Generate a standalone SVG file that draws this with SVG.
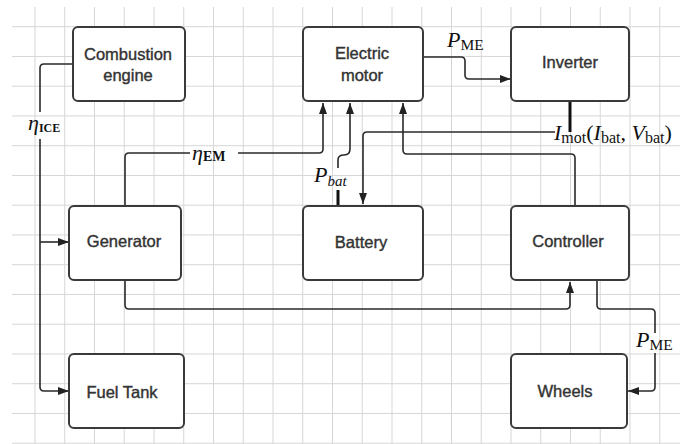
<svg xmlns="http://www.w3.org/2000/svg" width="680" height="444" viewBox="0 0 680 444">
<defs>
<pattern id="grid" x="34.5" y="26.2" width="29.75" height="29.75" patternUnits="userSpaceOnUse">
<path d="M0.5,0 V29.75 M0,0.5 H29.75" stroke="#d6d6d6" stroke-width="1" fill="none"/>
</pattern>
<marker id="ah" viewBox="0 0 11 8" refX="11" refY="4" markerWidth="11" markerHeight="8" markerUnits="userSpaceOnUse" orient="auto">
<path d="M0,0 L11,4 L0,8 z" fill="#222"/>
</marker>
<style>
.box{fill:#fff;stroke:#3a3a3a;stroke-width:2}
.lbl{font-family:"Liberation Sans",Arial,sans-serif;font-size:16.5px;fill:#333;stroke:#333;stroke-width:0.4;text-anchor:middle}
.c{fill:none;stroke:#2a2a2a;stroke-width:1.6}
.thick{fill:none;stroke:#111;stroke-width:3}
.m{font-family:"Liberation Serif","Times New Roman",serif;font-size:22px;fill:#111}
.it{font-style:italic}
.b{font-weight:bold}
</style>
</defs>
<rect x="0" y="0" width="680" height="444" fill="#fff"/>
<rect x="12" y="7" width="668" height="437" fill="url(#grid)"/>

<g id="connectors">
<path class="c" d="M73,64 H44 Q40,64 40,68 V112"/>
<path class="c" d="M40,139 V387 Q40,391 44,391 H69" marker-end="url(#ah)"/>
<path class="c" d="M40,242 H69" marker-end="url(#ah)"/>
<path class="c" d="M125,206 V157 Q125,153 129,153 H190"/>
<path class="c" d="M238,153 H319 Q323,153 323,149 V103" marker-end="url(#ah)"/>
<path class="c" d="M338,168 V160 Q338,155 344,155 Q350,155 350,149 V103" marker-end="url(#ah)"/>
<path class="thick" d="M338,190 V205"/>
<path class="thick" d="M570,101 V132"/>
<path class="c" d="M555,132 H367 Q363,132 363,136 V204" marker-end="url(#ah)"/>
<path class="c" d="M575,206 V158 Q575,154 571,154 H407 Q403,154 403,150 V103" marker-end="url(#ah)"/>
<path class="c" d="M125,280 V305 Q125,309 129,309 H566 Q570,309 570,305 V282" marker-end="url(#ah)"/>
<path class="c" d="M597,280 V305 Q597,309 601,309 H651 Q655,309 655,313 V333"/>
<path class="c" d="M655,353 V387 Q655,391 651,391 H628" marker-end="url(#ah)"/>
<path class="c" d="M423,57 H461 Q465,57 465,61 V75 Q465,79 469,79 H511" marker-end="url(#ah)"/>

<text class="m" x="28" y="130"><tspan class="it" font-size="22">η</tspan><tspan class="b" font-size="12" dy="2">ICE</tspan></text>
<text class="m" x="192" y="160"><tspan class="it" font-size="22">η</tspan><tspan class="b" font-size="14" dy="1">EM</tspan></text>
<text class="m" x="447" y="47"><tspan class="it">P</tspan><tspan font-size="15.5" dy="3">ME</tspan></text>
<text class="m" x="314" y="182"><tspan class="it">P</tspan><tspan class="it" font-size="15" dy="4">bat</tspan></text>
<text class="m" x="554" y="140"><tspan class="it">I</tspan><tspan font-size="16" dy="3">mot</tspan><tspan dy="-3">(</tspan><tspan class="it">I</tspan><tspan font-size="16" dy="3">bat</tspan><tspan dy="-3">, </tspan><tspan class="it">V</tspan><tspan font-size="16" dy="3">bat</tspan><tspan dy="-3">)</tspan></text>
<text class="m" x="636" y="347"><tspan class="it">P</tspan><tspan font-size="15.5" dy="3">ME</tspan></text>
</g>

<g id="combustion-engine">
<rect class="box" x="73" y="27" width="112" height="74" rx="5"/>
<text class="lbl" x="128" y="60">Combustion</text>
<text class="lbl" x="128" y="81">engine</text>
</g>
<g id="electric-motor">
<rect class="box" x="303" y="27" width="120" height="74" rx="5"/>
<text class="lbl" x="362" y="59">Electric</text>
<text class="lbl" x="362" y="81">motor</text>
</g>
<g id="inverter">
<rect class="box" x="511" y="27" width="118" height="74" rx="5"/>
<text class="lbl" x="570" y="68">Inverter</text>
</g>
<g id="generator">
<rect class="box" x="69" y="206" width="112" height="74" rx="5"/>
<text class="lbl" x="124" y="247">Generator</text>
</g>
<g id="battery">
<rect class="box" x="303" y="206" width="120" height="74" rx="5"/>
<text class="lbl" x="361" y="248">Battery</text>
</g>
<g id="controller">
<rect class="box" x="511" y="206" width="118" height="74" rx="5"/>
<text class="lbl" x="568" y="247">Controller</text>
</g>
<g id="fuel-tank">
<rect class="box" x="69" y="354" width="115" height="74" rx="5"/>
<text class="lbl" x="122" y="398">Fuel Tank</text>
</g>
<g id="wheels">
<rect class="box" x="511" y="354" width="116" height="74" rx="5"/>
<text class="lbl" x="565" y="397">Wheels</text>
</g>
</svg>
